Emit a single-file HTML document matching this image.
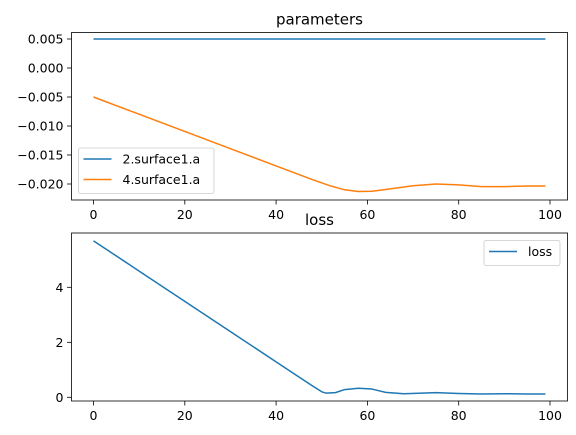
<!DOCTYPE html>
<html><head><meta charset="utf-8"><style>
html,body{margin:0;padding:0;background:#fff;}
svg{display:block;font-family:"DejaVu Sans","Liberation Sans",sans-serif;}
</style></head><body>
<svg id="fig" width="576" height="435" viewBox="0 0 576 435"></svg>
<script>
const paramSteps = [0,10,20,30,40,48,52,55,58,61,65,70,75,80,85,90,95,99];
const paramA2 = [0.005,0.005,0.005,0.005,0.005,0.005,0.005,0.005,0.005,0.005,0.005,0.005,0.005,0.005,0.005,0.005,0.005,0.005];
const paramA4 = [-0.005,-0.00797,-0.01094,-0.01391,-0.01688,-0.01926,-0.02035,-0.02100,-0.02130,-0.02125,-0.02085,-0.02030,-0.02000,-0.02015,-0.02045,-0.02045,-0.02035,-0.02035];
const lossSteps = [0,10,20,30,40,48,50,51,53,55,58,61,64,68,72,75,80,85,90,95,99];
const lossValues = [5.69,4.59,3.49,2.39,1.29,0.41,0.2,0.15,0.17,0.28,0.33,0.30,0.18,0.13,0.15,0.17,0.14,0.12,0.13,0.12,0.12];
const xTicks = [0,20,40,60,80,100];
const topYTicks = [0.005,0.000,-0.005,-0.010,-0.015,-0.020];
const topYLabels = ["0.005","0.000","\u22120.005","\u22120.010","\u22120.015","\u22120.020"];
const botYTicks = [0,2,4];
const botYLabels = ["0","2","4"];

const NS="http://www.w3.org/2000/svg";
const svg=document.getElementById('fig');
function mk(tag,attrs,parent){const e=document.createElementNS(NS,tag);for(const k in attrs)e.setAttribute(k,attrs[k]);(parent||svg).appendChild(e);return e;}
const X0=71.5,X1=567.5;
const xs=v=>93.5+v*4.565;
const yTop=v=>68-v*5800;
const yBot=v=>397.3-v*27.5;

function axes(name,top,bottom,yTicks,yLabels,ys,title){
  const g=mk('g',{});
  
  
  const t=mk('text',{x:319.5,y:top-8,'text-anchor':'middle','font-size':15,fill:'#000'},g);
  t.textContent=title;
  
  
  xTicks.forEach(v=>{
    mk('line',{x1:xs(v),x2:xs(v),y1:bottom,y2:bottom+4.5,stroke:'#000','stroke-width':0.8},g);
    const l=mk('text',{x:xs(v),y:bottom+19,'text-anchor':'middle','font-size':12.5,fill:'#000'},g);
    l.textContent=v;
    
    
  });
  yTicks.forEach((v,i)=>{
    mk('line',{x1:X0-4.5,x2:X0,y1:ys(v),y2:ys(v),stroke:'#000','stroke-width':0.8},g);
    const l=mk('text',{x:X0-8,y:ys(v)+4.5,'text-anchor':'end','font-size':12.5,fill:'#000'},g);
    l.textContent=yLabels[i];
    
    
  });
  return g;
}
function line(steps,vals,ys,color,name){
  const p=mk('polyline',{points:steps.map((s,i)=>xs(s)+','+ys(vals[i])).join(' '),fill:'none',stroke:color,'stroke-width':1.5,'stroke-linejoin':'round'});
  
  
}
function frame(top,bottom){mk('rect',{x:X0,y:top,width:X1-X0,height:bottom-top,fill:'none',stroke:'#000','stroke-width':0.8});}

axes('parameters-axes',32.5,200,topYTicks,topYLabels,yTop,'parameters');
line(paramSteps,paramA2,yTop,'#1f77b4','series-2-surface1-a');
line(paramSteps,paramA4,yTop,'#ff7f0e','series-4-surface1-a');
frame(32.5,200);

axes('loss-axes',233,401,botYTicks,botYLabels,yBot,'loss');
line(lossSteps,lossValues,yBot,'#1f77b4','series-loss');
frame(233,401);

function legend(x,y,w,h,entries,name){
  const g=mk('g',{});
  
  
  mk('rect',{x:x,y:y,width:w,height:h,rx:2,fill:'#fff','fill-opacity':0.8,stroke:'#ccc','stroke-width':0.8},g);
  entries.forEach((e,i)=>{
    const cy=y+11+i*20.5;
    mk('line',{x1:x+5,x2:x+33,y1:cy,y2:cy,stroke:e[1],'stroke-width':1.5},g);
    const t=mk('text',{x:x+44,y:cy+4.5,'font-size':12.5,fill:'#000'},g);
    t.textContent=e[0];
    
    
  });
}
legend(78.5,148,135.5,45.5,[['2.surface1.a','#1f77b4'],['4.surface1.a','#ff7f0e']],'parameters-legend');
legend(484,240.5,76,25,[['loss','#1f77b4']],'loss-legend');
</script>
</body></html>
